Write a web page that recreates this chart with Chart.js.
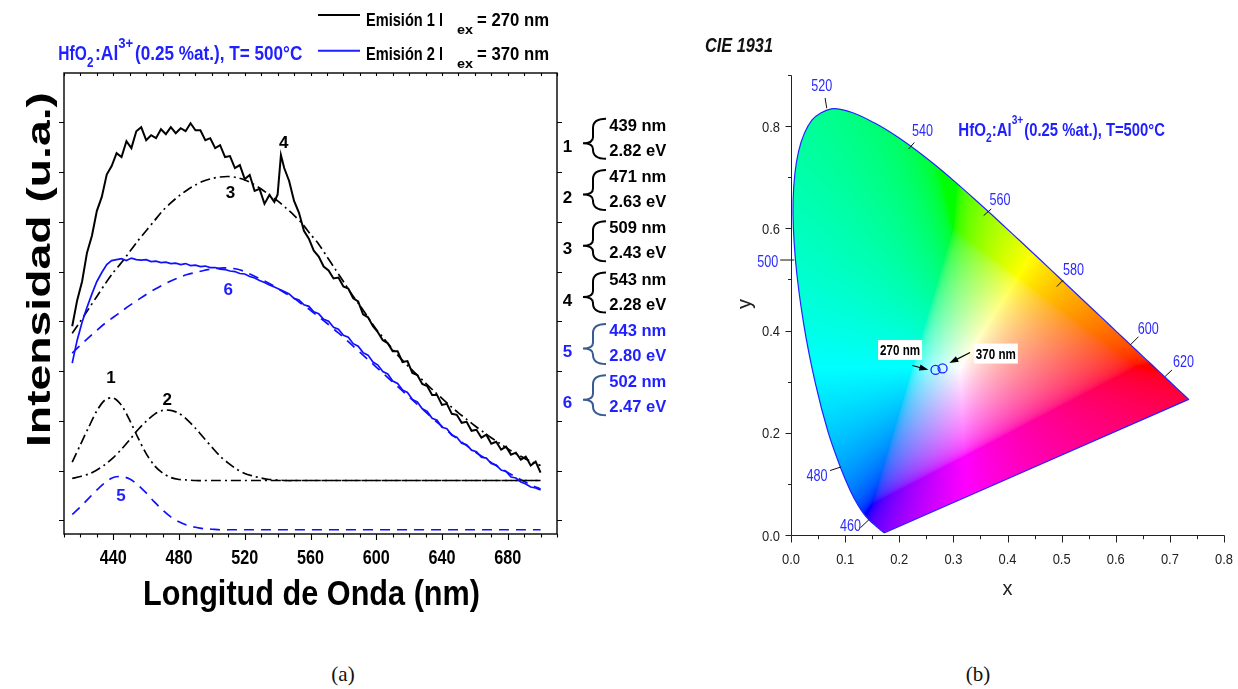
<!DOCTYPE html>
<html lang="es">
<head>
<meta charset="utf-8">
<title>Emisión HfO2:Al3+ y diagrama CIE 1931</title>
<script src="https://cdn.jsdelivr.net/npm/chart.js@4.4.1/dist/chart.umd.min.js"></script>
<style>
  html, body { margin: 0; padding: 0; background: #fff; }
  body { width: 1238px; height: 689px; position: relative; overflow: hidden; }
  canvas { position: absolute; top: 0; }
  #espectro { left: 0; }
  #cie { left: 690px; }
  .pie { position: absolute; top: 674px; transform: translate(-50%, -50%);
         font: 21px "Liberation Serif", "DejaVu Serif", serif; color: #111; }
</style>
</head>
<body>
<canvas id="espectro" width="700" height="640"></canvas>
<canvas id="cie" width="548" height="640"></canvas>
<div class="pie" style="left:343px">(a)</div>
<div class="pie" style="left:978px">(b)</div>
<script>
// ---- (a) espectros de emisión ----
const lambdaEsp = [415, 418, 421, 424, 427, 430, 433, 436, 439, 442, 445, 448, 451, 454, 457, 460, 463, 466, 469, 472,
  475, 478, 481, 484, 487, 490, 493, 496, 499, 502, 505, 508, 511, 514, 517, 520, 523, 526, 529, 532, 535, 538,
  540, 542, 544, 547, 550, 553, 556, 559, 562, 565, 568, 571, 574, 577, 580, 583, 586, 589, 592, 595, 598, 601,
  604, 607, 610, 613, 616, 619, 622, 625, 628, 631, 634, 637, 640, 643, 646, 649, 652, 655, 658, 661, 664, 667,
  670, 673, 676, 679, 682, 685, 688, 691, 694, 697, 700];

// excitación 270 nm
const emision1 = [3.90, 4.42, 4.80, 5.38, 5.72, 6.22, 6.50, 6.95, 7.12, 7.38, 7.30, 7.62, 7.48, 7.82, 7.90, 7.64, 7.74, 7.68, 7.86, 7.76,
  7.90, 7.78, 7.88, 7.82, 7.98, 7.84, 7.84, 7.64, 7.68, 7.48, 7.54, 7.30, 7.32, 7.08, 7.14, 6.86, 6.94, 6.62, 6.66, 6.36, 6.54, 6.40,
  6.55, 7.34, 7.08, 6.82, 6.42, 6.18, 5.82, 5.66, 5.42, 5.30, 5.10, 5.02, 4.86, 4.88, 4.70, 4.66, 4.46, 4.40, 4.14, 4.08, 3.90, 3.78,
  3.62, 3.56, 3.40, 3.40, 3.18, 3.20, 2.96, 2.92, 2.74, 2.70, 2.52, 2.52, 2.32, 2.34, 2.14, 2.12, 1.96, 1.98, 1.80, 1.82, 1.66, 1.72,
  1.54, 1.58, 1.42, 1.48, 1.32, 1.36, 1.22, 1.28, 1.10, 1.18, 0.96];

// excitación 370 nm
const emision2 = [3.16, 3.62, 3.98, 4.28, 4.55, 4.80, 4.98, 5.14, 5.22, 5.24, 5.26, 5.22, 5.27, 5.24, 5.23, 5.24, 5.20, 5.21, 5.18, 5.19,
  5.16, 5.17, 5.14, 5.16, 5.12, 5.13, 5.10, 5.11, 5.08, 5.08, 5.05, 5.04, 5.01, 5.00, 4.96, 4.95, 4.90, 4.87, 4.82, 4.78, 4.73, 4.69,
  4.66, 4.63, 4.60, 4.55, 4.46, 4.43, 4.33, 4.30, 4.19, 4.15, 4.04, 4.00, 3.88, 3.84, 3.72, 3.68, 3.55, 3.50, 3.37, 3.32, 3.18, 3.12,
  2.99, 2.94, 2.80, 2.75, 2.62, 2.57, 2.43, 2.38, 2.24, 2.19, 2.05, 2.01, 1.87, 1.84, 1.71, 1.67, 1.55, 1.52, 1.41, 1.38, 1.27, 1.25,
  1.14, 1.11, 1.01, 0.98, 0.87, 0.85, 0.77, 0.73, 0.67, 0.65, 0.61];

// bandas de la deconvolución (malla de 5 nm)
const lambdaComp = [415, 420, 425, 430, 435, 440, 445, 450, 455, 460, 465, 470, 475, 480, 485, 490, 495, 500, 505, 510,
  515, 520, 525, 530, 535, 540, 545, 550, 555, 560, 565, 570, 575, 580, 585, 590, 595, 600, 605, 610,
  615, 620, 625, 630, 635, 640, 645, 650, 655, 660, 665, 670, 675, 680, 685, 690, 695, 700];

const banda1 = [1.17, 1.52, 1.87, 2.20, 2.42, 2.46, 2.31, 2.01, 1.66, 1.34, 1.10, 0.95, 0.86, 0.82, 0.81, 0.80, 0.80, 0.80, 0.80, 0.80,
  0.80, 0.80, 0.80, 0.80, 0.80, 0.80, 0.80, 0.80, 0.80, 0.80, 0.80, 0.80, 0.80, 0.80, 0.80, 0.80, 0.80, 0.80, 0.80, 0.80,
  0.80, 0.80, 0.80, 0.80, 0.80, 0.80, 0.80, 0.80, 0.80, 0.80, 0.80, 0.80, 0.80, 0.80, 0.80, 0.80, 0.80, 0.80];
const banda2 = [0.84, 0.88, 0.93, 1.01, 1.12, 1.26, 1.43, 1.62, 1.82, 1.99, 2.13, 2.21, 2.21, 2.15, 2.02, 1.85, 1.66, 1.47, 1.29, 1.15,
  1.03, 0.94, 0.89, 0.85, 0.82, 0.81, 0.80, 0.80, 0.80, 0.80, 0.80, 0.80, 0.80, 0.80, 0.80, 0.80, 0.80, 0.80, 0.80, 0.80,
  0.80, 0.80, 0.80, 0.80, 0.80, 0.80, 0.80, 0.80, 0.80, 0.80, 0.80, 0.80, 0.80, 0.80, 0.80, 0.80, 0.80, 0.80];
const banda3 = [3.76, 4.00, 4.25, 4.50, 4.75, 4.98, 5.18, 5.40, 5.62, 5.82, 6.02, 6.22, 6.38, 6.52, 6.64, 6.74, 6.82, 6.87, 6.90, 6.91,
  6.89, 6.84, 6.76, 6.66, 6.54, 6.42, 6.28, 6.13, 5.96, 5.75, 5.55, 5.30, 5.05, 4.80, 4.55, 4.32, 4.08, 3.84, 3.64, 3.44,
  3.25, 3.08, 2.92, 2.76, 2.60, 2.45, 2.30, 2.16, 2.03, 1.90, 1.78, 1.66, 1.55, 1.44, 1.34, 1.25, 1.17, 1.10];
const banda5 = [0.12, 0.27, 0.44, 0.61, 0.76, 0.86, 0.88, 0.83, 0.71, 0.55, 0.37, 0.21, 0.07, -0.03, -0.10, -0.14, -0.17, -0.18, -0.19, -0.19,
  -0.19, -0.19, -0.19, -0.19, -0.19, -0.19, -0.19, -0.19, -0.19, -0.19, -0.19, -0.19, -0.19, -0.19, -0.19, -0.19, -0.19, -0.19, -0.19, -0.19,
  -0.19, -0.19, -0.19, -0.19, -0.19, -0.19, -0.19, -0.19, -0.19, -0.19, -0.19, -0.19, -0.19, -0.19, -0.19, -0.19, -0.19, -0.19];
const banda6 = [3.36, 3.52, 3.67, 3.82, 3.96, 4.08, 4.20, 4.32, 4.43, 4.54, 4.64, 4.73, 4.81, 4.88, 4.94, 4.98, 5.02, 5.05, 5.07, 5.07,
  5.05, 5.00, 4.92, 4.84, 4.76, 4.66, 4.56, 4.46, 4.34, 4.22, 4.09, 3.96, 3.82, 3.68, 3.53, 3.38, 3.23, 3.08, 2.93, 2.78,
  2.63, 2.48, 2.33, 2.18, 2.03, 1.89, 1.75, 1.62, 1.50, 1.38, 1.27, 1.16, 1.06, 0.96, 0.87, 0.78, 0.70, 0.63];

const ticksLambda = [440, 480, 520, 560, 600, 640, 680];
const ticksIntensidad = [0, 1, 2, 3, 4, 5, 6, 7, 8];

// número de banda, posición, energía
const bandas = [
  ['1', '439 nm', '2.82 eV'],
  ['2', '471 nm', '2.63 eV'],
  ['3', '509 nm', '2.43 eV'],
  ['4', '543 nm', '2.28 eV'],
  ['5', '443 nm', '2.80 eV'],
  ['6', '502 nm', '2.47 eV']
];

// ---- (b) CIE 1931 ----
const locusNm = [380, 385, 390, 395, 400, 405, 410, 415, 420, 425, 430, 435, 440, 445, 450, 455, 460, 465, 470, 475,
  480, 485, 490, 495, 500, 505, 510, 515, 520, 525, 530, 535, 540, 545, 550, 555, 560, 565, 570, 575,
  580, 585, 590, 595, 600, 605, 610, 615, 620, 625, 630, 635, 640, 645, 650, 660, 670, 680, 690, 700];
const locusX = [0.1741, 0.1740, 0.1738, 0.1736, 0.1733, 0.1730, 0.1726, 0.1721, 0.1714, 0.1703, 0.1689, 0.1669, 0.1644, 0.1611, 0.1566, 0.1510, 0.1440, 0.1355, 0.1241, 0.1096,
  0.0913, 0.0687, 0.0454, 0.0235, 0.0082, 0.0039, 0.0139, 0.0389, 0.0743, 0.1142, 0.1547, 0.1929, 0.2296, 0.2658, 0.3016, 0.3373, 0.3731, 0.4087, 0.4441, 0.4788,
  0.5125, 0.5448, 0.5752, 0.6029, 0.6270, 0.6482, 0.6658, 0.6801, 0.6915, 0.7006, 0.7079, 0.7140, 0.7190, 0.7230, 0.7260, 0.7300, 0.7320, 0.7334, 0.7344, 0.7347];
const locusY = [0.0050, 0.0050, 0.0049, 0.0049, 0.0048, 0.0048, 0.0048, 0.0048, 0.0051, 0.0058, 0.0069, 0.0086, 0.0109, 0.0138, 0.0177, 0.0227, 0.0297, 0.0399, 0.0578, 0.0868,
  0.1327, 0.2007, 0.2950, 0.4127, 0.5384, 0.6548, 0.7502, 0.8120, 0.8338, 0.8262, 0.8059, 0.7816, 0.7543, 0.7243, 0.6923, 0.6589, 0.6245, 0.5896, 0.5547, 0.5202,
  0.4866, 0.4544, 0.4242, 0.3965, 0.3725, 0.3514, 0.3340, 0.3197, 0.3083, 0.2993, 0.2920, 0.2859, 0.2809, 0.2770, 0.2740, 0.2700, 0.2680, 0.2666, 0.2656, 0.2653];

const cieTicksX = [0.0, 0.1, 0.2, 0.3, 0.4, 0.5, 0.6, 0.7, 0.8];
const cieTicksY = [0.0, 0.2, 0.4, 0.6, 0.8];

// coordenadas de color de las dos emisiones
const excitacion = ['270 nm', '370 nm'];
const coordX = [0.267, 0.280];
const coordY = [0.323, 0.326];

// rótulos de longitud de onda sobre el locus (centro del texto y segmento guía)
const marcasLocus = [
  { nm: '500', tx: -0.043, ty: 0.535, l: [-0.020, 0.538, 0.006, 0.538] },
  { nm: '520', tx: 0.057, ty: 0.880, l: [0.063, 0.855, 0.066, 0.835] },
  { nm: '540', tx: 0.243, ty: 0.792, l: [0.228, 0.768, 0.217, 0.755] },
  { nm: '560', tx: 0.386, ty: 0.657, l: [0.370, 0.638, 0.356, 0.625] },
  { nm: '580', tx: 0.522, ty: 0.519, l: [0.503, 0.499, 0.491, 0.486] },
  { nm: '600', tx: 0.660, ty: 0.405, l: [0.642, 0.388, 0.627, 0.372] },
  { nm: '620', tx: 0.725, ty: 0.339, l: [0.704, 0.323, 0.691, 0.310] },
  { nm: '480', tx: 0.048, ty: 0.116, l: [0.072, 0.126, 0.092, 0.133] },
  { nm: '460', tx: 0.110, ty: 0.019, l: [0.128, 0.014, 0.144, 0.030] }
];
// cajas de texto de las emisiones y sus flechas
const notasExc = [
  { cx: 0.2015, cy: 0.362, f: [0.2242, 0.3316, 0.2538, 0.3232] },
  { cx: 0.3784, cy: 0.355, f: [0.3309, 0.357, 0.2926, 0.3363] }
];

const FUENTE = '"Liberation Sans", Arial, Helvetica, sans-serif';
const AZUL = '#1f1fff';

// texto con ancho ajustado (la figura tiene las letras algo estrechas)
function texto(ctx, str, x, y, o) {
  ctx.save();
  ctx.font = (o.italic ? 'italic ' : '') + (o.bold === false ? '' : 'bold ') + o.size + 'px ' + FUENTE;
  ctx.fillStyle = o.color || '#000';
  ctx.textBaseline = 'alphabetic';
  const w = ctx.measureText(str).width;
  const sx = o.width ? o.width / w : 1;
  ctx.translate(x, y);
  if (o.rotate) ctx.rotate(o.rotate);
  ctx.scale(sx, 1);
  const dx = o.align === 'center' ? -w / 2 : o.align === 'right' ? -w : 0;
  ctx.fillText(str, dx, 0);
  ctx.restore();
}

function llave(ctx, xr, xt, top, mid, bottom, color) {
  const xm = xr - 13;
  ctx.save();
  ctx.strokeStyle = color; ctx.lineWidth = 2;
  ctx.beginPath();
  ctx.moveTo(xr, top);
  ctx.quadraticCurveTo(xm, top, xm, top + 9);
  ctx.lineTo(xm, mid - 6);
  ctx.quadraticCurveTo(xm, mid, xt, mid);
  ctx.quadraticCurveTo(xm, mid, xm, mid + 6);
  ctx.lineTo(xm, bottom - 9);
  ctx.quadraticCurveTo(xm, bottom, xr, bottom);
  ctx.stroke();
  ctx.restore();
}

function flecha(ctx, x1, y1, x2, y2) {
  const a = Math.atan2(y2 - y1, x2 - x1), c = Math.cos(a), s = Math.sin(a);
  ctx.beginPath(); ctx.moveTo(x1, y1); ctx.lineTo(x2 - 6 * c, y2 - 6 * s); ctx.stroke();
  ctx.beginPath(); ctx.moveTo(x2, y2);
  ctx.lineTo(x2 - 9 * c + 3.2 * s, y2 - 9 * s - 3.2 * c);
  ctx.lineTo(x2 - 9 * c - 3.2 * s, y2 - 9 * s + 3.2 * c);
  ctx.closePath(); ctx.fill();
}

const puntos = (xs, ys) => xs.map((x, i) => ({ x: x, y: ys[i] }));

const etiquetasBanda = [
  { t: '1', l: 438.6, v: 2.88, c: '#000' },
  { t: '2', l: 472.8, v: 2.43, c: '#000' },
  { t: '3', l: 511.3, v: 6.60, c: '#000' },
  { t: '4', l: 543.7, v: 7.61, c: '#000' },
  { t: '5', l: 444.7, v: 0.51, c: AZUL },
  { t: '6', l: 509.9, v: 4.65, c: AZUL }
];

const marcoEspectro = {
  id: 'marcoEspectro',
  afterDraw(chart) {
    const ctx = chart.ctx, a = chart.chartArea, sx = chart.scales.x, sy = chart.scales.y;
    ctx.save();
    ctx.strokeStyle = '#000';
    ctx.lineWidth = 1.4;
    ctx.strokeRect(a.left, a.top, a.right - a.left, a.bottom - a.top);
    ctx.beginPath();
    for (let l = 410; l <= 710; l += 10) {
      const px = Math.round(sx.getPixelForValue(l)) + 0.5;
      const largo = ticksLambda.includes(l) ? 6 : 3.5;
      ctx.moveTo(px, a.bottom); ctx.lineTo(px, a.bottom + largo);
      ctx.moveTo(px, a.top); ctx.lineTo(px, a.top + 3);
    }
    ticksIntensidad.forEach(v => {
      const py = Math.round(sy.getPixelForValue(v)) + 0.5;
      ctx.moveTo(a.left, py); ctx.lineTo(a.left - 5, py);
      ctx.moveTo(a.right, py); ctx.lineTo(a.right + 5, py);
    });
    ctx.lineWidth = 1.1;
    ctx.stroke();
    ctx.restore();

    ticksLambda.forEach(l => texto(ctx, String(l), sx.getPixelForValue(l), 564, { size: 20, width: 27, align: 'center' }));
    texto(ctx, 'Longitud de Onda (nm)', 311.5, 605, { size: 35, width: 337, align: 'center' });
    texto(ctx, 'Intensidad (u.a.)', 50, 447, { size: 33, width: 355, rotate: -Math.PI / 2 });

    // rótulos de las bandas sobre las curvas
    etiquetasBanda.forEach(e => texto(ctx, e.t, sx.getPixelForValue(e.l), sy.getPixelForValue(e.v) + 6,
      { size: 17, align: 'center', color: e.c }));

    // muestra
    texto(ctx, 'HfO', 58.3, 60, { size: 21, width: 28.4, color: AZUL });
    texto(ctx, '2', 87, 66.5, { size: 14, width: 6.5, color: AZUL });
    texto(ctx, ':Al', 95, 60, { size: 21, width: 23.3, color: AZUL });
    texto(ctx, '3+', 118.3, 48, { size: 14, width: 15, color: AZUL });
    texto(ctx, '(0.25 %at.), T= 500°C', 135, 60, { size: 21, width: 167.3, color: AZUL });

    // leyenda
    [['1', '270', '#000', 15, 25.7], ['2', '370', AZUL, 50.7, 59.5]].forEach(([n, ex, col, yl, yb]) => {
      ctx.save();
      ctx.strokeStyle = col; ctx.lineWidth = 2;
      ctx.beginPath(); ctx.moveTo(318, yl); ctx.lineTo(360, yl); ctx.stroke();
      ctx.restore();
      texto(ctx, 'Emisión ' + n + ' l', 366, yb, { size: 19, width: 77 });
      texto(ctx, 'ex', 457, yb + 8, { size: 12, width: 16 });
      texto(ctx, '= ' + ex + ' nm', 477, yb, { size: 19, width: 72 });
    });

    // posiciones y energías de las bandas
    bandas.forEach(([n, nm, ev], k) => {
      const b1 = 130.7 + 51.3 * k;
      const azul = k >= 4;
      texto(ctx, n, 567.5, b1 + 21, { size: 17, align: 'center', color: azul ? AZUL : '#000' });
      llave(ctx, 606, 583, b1 - 12, b1 + 12.5, b1 + 28, azul ? '#3a5a92' : '#000');
      texto(ctx, nm, 609.3, b1, { size: 16, width: 57, color: azul ? AZUL : '#000' });
      texto(ctx, ev, 609.3, b1 + 25, { size: 16, width: 57, color: azul ? AZUL : '#000' });
    });
  }
};

const lineaEsp = (ys, color, ancho) => ({
  data: puntos(lambdaEsp, ys), borderColor: color, borderWidth: ancho, pointRadius: 0, tension: 0, order: 0
});
const lineaComp = (ys, color, trazo) => ({
  data: puntos(lambdaComp, ys), borderColor: color, borderWidth: 1.7, borderDash: trazo,
  pointRadius: 0, tension: 0.3, order: 1
});
const rayaPunto = [10, 4, 2, 4];
const rayas = [10, 7];

new Chart(document.getElementById('espectro'), {
  type: 'line',
  data: {
    datasets: [
      lineaEsp(emision1, '#000', 2),
      lineaEsp(emision2, '#1010ff', 1.7),
      lineaComp(banda1, '#000', rayaPunto),
      lineaComp(banda2, '#000', rayaPunto),
      lineaComp(banda3, '#000', rayaPunto),
      lineaComp(banda5, '#1010ff', rayas),
      lineaComp(banda6, '#1010ff', rayas)
    ]
  },
  options: {
    responsive: false, animation: false, devicePixelRatio: 1, events: [],
    layout: { padding: { left: 64, top: 73, right: 143, bottom: 106 } },
    scales: {
      x: { type: 'linear', min: 410, max: 710, display: false },
      y: { type: 'linear', min: -0.275, max: 8.99, display: false }
    },
    plugins: { legend: { display: false }, tooltip: { enabled: false } }
  },
  plugins: [marcoEspectro]
});

// color aproximado sRGB para una cromaticidad (x, y)
function colorCromatico(x, y) {
  const X = x / y, Z = (1 - x - y) / y;
  let r = 3.2406 * X - 1.5372 - 0.4986 * Z;
  let g = -0.9689 * X + 1.8758 + 0.0415 * Z;
  let b = 0.0557 * X - 0.2040 + 1.0570 * Z;
  const m = Math.min(r, g, b);
  if (m < 0) { r -= 0.55 * m; g -= 0.55 * m; b -= 0.55 * m; }
  r = Math.max(r, 0); g = Math.max(g, 0); b = Math.max(b, 0);
  const M = Math.max(r, g, b) || 1;
  return [r / M, g / M, b / M].map(c =>
    Math.round(255 * (c <= 0.0031308 ? 12.92 * c : 1.055 * Math.pow(c, 1 / 2.4) - 0.055)));
}

let imagenCIE = null;

const diagramaCIE = {
  id: 'diagramaCIE',
  beforeDatasetsDraw(chart) {
    const ctx = chart.ctx, a = chart.chartArea, sx = chart.scales.x, sy = chart.scales.y;
    const w = Math.ceil(a.right - a.left), h = Math.ceil(a.bottom - a.top);
    if (!imagenCIE || imagenCIE.width !== w || imagenCIE.height !== h) {
      imagenCIE = document.createElement('canvas');
      imagenCIE.width = w; imagenCIE.height = h;
      const octx = imagenCIE.getContext('2d');
      const img = octx.createImageData(w, h);
      for (let j = 0; j < h; j++) {
        const y = sy.getValueForPixel(a.top + j + 0.5);
        for (let i = 0; i < w; i++) {
          if (y <= 0.002) continue;
          const x = sx.getValueForPixel(a.left + i + 0.5);
          const c = colorCromatico(x, y);
          const k = (j * w + i) * 4;
          img.data[k] = c[0]; img.data[k + 1] = c[1]; img.data[k + 2] = c[2]; img.data[k + 3] = 255;
        }
      }
      octx.putImageData(img, 0, 0);
    }
    const linea = chart.getDatasetMeta(0).dataset;
    ctx.save();
    ctx.beginPath();
    if (linea && typeof linea.path === 'function') {
      if (typeof linea.updateControlPoints === 'function') linea.updateControlPoints(a, 'x');
      linea.path(ctx);
    } else {
      chart.getDatasetMeta(0).data.forEach((p, i) => i ? ctx.lineTo(p.x, p.y) : ctx.moveTo(p.x, p.y));
    }
    ctx.closePath();
    ctx.clip();
    ctx.drawImage(imagenCIE, a.left, a.top);
    ctx.restore();
  },
  afterDraw(chart) {
    const ctx = chart.ctx, a = chart.chartArea, sx = chart.scales.x, sy = chart.scales.y;
    const X = v => sx.getPixelForValue(v), Y = v => sy.getPixelForValue(v);
    ctx.save();
    ctx.strokeStyle = '#222';
    ctx.lineWidth = 1;
    ctx.beginPath();
    const x0 = Math.round(a.left) + 0.5, y0 = Math.round(a.bottom) + 0.5;
    ctx.moveTo(x0, Math.round(Y(0.9)) + 0.5); ctx.lineTo(x0, y0); ctx.lineTo(Math.round(X(0.8)) + 0.5, y0);
    for (let k = 0; k <= 9; k++) {
      const py = Math.round(Y(k / 10)) + 0.5;
      ctx.moveTo(x0, py); ctx.lineTo(x0 - (k % 2 === 0 ? 6 : 3.5), py);
    }
    for (let k = 0; k <= 16; k++) {
      const px = Math.round(X(k / 20)) + 0.5;
      ctx.moveTo(px, y0); ctx.lineTo(px, y0 + (k % 2 === 0 ? 7 : 3.7));
    }
    ctx.stroke();
    ctx.restore();

    cieTicksY.forEach(v => texto(ctx, v.toFixed(1), a.left - 11, Y(v) + 5.5,
      { size: 15, bold: false, width: 18, align: 'right', color: '#222' }));
    cieTicksX.forEach(v => texto(ctx, v.toFixed(1), X(v), 563.5,
      { size: 15, bold: false, width: 18, align: 'center', color: '#222' }));
    texto(ctx, 'x', X(0.4), 595, { size: 20, bold: false, align: 'center', color: '#222' });
    texto(ctx, 'y', 61, 304, { size: 20, bold: false, align: 'center', color: '#222', rotate: -Math.PI / 2 });

    texto(ctx, 'CIE 1931', 15, 52, { size: 20, italic: true, width: 68, color: '#111' });

    texto(ctx, 'HfO', 268.3, 136, { size: 19, width: 27.7, color: AZUL });
    texto(ctx, '2', 296, 141.5, { size: 13, width: 5.7, color: AZUL });
    texto(ctx, ':Al', 301.7, 136, { size: 19, width: 20, color: AZUL });
    texto(ctx, '3+', 321.7, 124, { size: 13, width: 11.6, color: AZUL });
    texto(ctx, '(0.25 %at.), T=500°C', 334.3, 136, { size: 19, width: 140.7, color: AZUL });

    // longitudes de onda sobre el locus
    ctx.save();
    ctx.strokeStyle = '#111'; ctx.lineWidth = 1;
    marcasLocus.forEach(m => {
      ctx.beginPath(); ctx.moveTo(X(m.l[0]), Y(m.l[1])); ctx.lineTo(X(m.l[2]), Y(m.l[3])); ctx.stroke();
      texto(ctx, m.nm, X(m.tx), Y(m.ty) + 5.5, { size: 16, bold: false, width: 21, align: 'center', color: '#2a2aff' });
    });
    ctx.restore();

    // cajas 270 nm / 370 nm
    notasExc.forEach((n, i) => {
      const cx = X(n.cx), cy = Y(n.cy);
      ctx.save();
      ctx.fillStyle = '#fff';
      ctx.fillRect(cx - 22, cy - 10, 44, 20);
      ctx.fillStyle = '#000'; ctx.strokeStyle = '#000'; ctx.lineWidth = 1.2;
      flecha(ctx, X(n.f[0]), Y(n.f[1]), X(n.f[2]), Y(n.f[3]));
      ctx.restore();
      texto(ctx, excitacion[i], cx, cy + 5.5, { size: 15, width: 40, align: 'center' });
    });
  }
};

new Chart(document.getElementById('cie'), {
  type: 'scatter',
  data: {
    datasets: [
      {
        data: puntos(locusX.concat([locusX[0]]), locusY.concat([locusY[0]])),
        showLine: true, borderColor: '#2323ff', borderWidth: 1.2, pointRadius: 0,
        tension: 0.3, fill: false, order: 1
      },
      {
        data: puntos(coordX, coordY),
        pointStyle: 'circle', pointRadius: 4.5, borderWidth: 1.3,
        borderColor: '#2020ff', backgroundColor: 'rgba(0,0,0,0)', order: 0
      }
    ]
  },
  options: {
    responsive: false, animation: false, devicePixelRatio: 1, events: [],
    layout: { padding: { left: 101, top: 75, right: 14, bottom: 105 } },
    scales: {
      x: { type: 'linear', min: 0, max: 0.8, display: false },
      y: { type: 'linear', min: 0, max: 0.9, display: false }
    },
    plugins: { legend: { display: false }, tooltip: { enabled: false } }
  },
  plugins: [diagramaCIE]
});
</script>
</body>
</html>
